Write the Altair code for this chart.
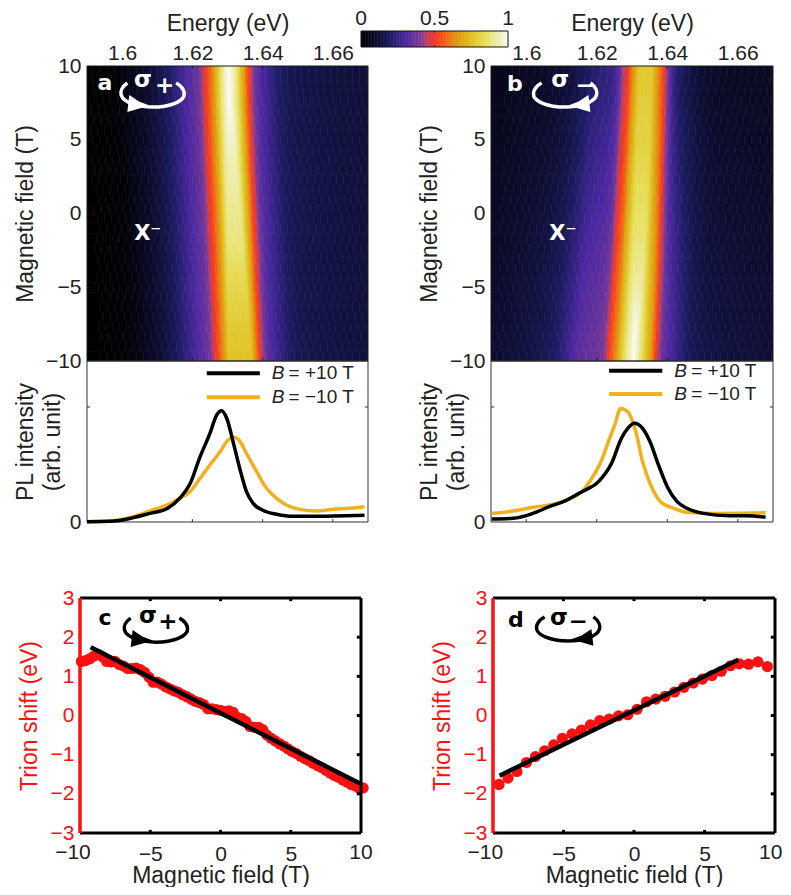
import altair as alt
import pandas as pd

alt.data_transformers.disable_max_rows()

# ---- colormap
CM_V = [0, .1, .2, .3, .4, .45, .5, .55, .65, .75, .85, .95, 1]
CM_C = ["#000000", "#0c0c2e", "#1c1c62", "#4a28a0", "#7a3a98", "#c04060", "#f03828", "#f85018",
        "#e09810", "#e0c020", "#e8e060", "#f0f0c0", "#fafaf0"]

# ---- heat map rows
ENERGY_START_MEV = 1590
ROW_STEP = 2 / 3
PROFILE_A = [.00, .00, .00, .00, .00, .00, .00, .00, .005, .005,
             .005, .005, .01, .01, .01, .015, .015, .02, .02, .025,
             .03, .03, .04, .04, .05, .05, .06, .065, .07, .075,
             .08, .085, .09, .10, .105, .11, .12, .125, .13, .14,
             .15, .155, .165, .17, .18, .19, .20, .21, .22, .23,
             .24, .25, .26, .27, .28, .29, .30, .31, .32, .33,
             .34, .35, .36, .38, .40, .43, .47, .50, .53, .56,
             .60, .63, .67, .72, .77, .82, .87, .91, .95, .98,
             1.0, .99, .97, .94, .90, .86, .81, .76, .71, .66,
             .60, .55, .50, .45, .41, .38, .35, .33, .31, .30,
             .29, .28, .27, .26, .25, .24, .23, .22, .21, .20,
             .19, .19, .18, .18, .17, .17, .165, .165, .16, .16,
             .155, .155, .155, .15, .15, .15, .15, .145, .145, .145,
             .145, .14, .14, .14, .14, .14, .14, .135, .135, .135,
             .135, .135, .135, .13, .13, .13, .13, .13, .13, .13,
             .13, .13, .125, .125, .125, .125, .125, .12, .12, .12, .12]
PROFILE_B = [.10, .10, .10, .105, .105, .11, .11, .11, .115, .115,
             .12, .12, .12, .125, .125, .13, .13, .13, .135, .135,
             .14, .14, .145, .145, .15, .15, .155, .16, .16, .165,
             .17, .175, .18, .185, .19, .195, .20, .21, .22, .23,
             .24, .25, .26, .27, .28, .29, .30, .31, .32, .33,
             .33, .34, .34, .35, .35, .35, .36, .36, .36, .37,
             .37, .38, .39, .40, .42, .45, .50, .54, .57, .60,
             .63, .66, .72, .76, .80, .84, .88, .91, .94, .97,
             1.0, .99, .96, .93, .89, .85, .81, .77, .73, .70,
             .66, .61, .56, .50, .46, .42, .38, .36, .34, .33,
             .31, .30, .29, .28, .26, .25, .24, .23, .22, .21,
             .20, .19, .18, .18, .17, .17, .16, .16, .15, .15,
             .145, .145, .14, .14, .14, .14, .135, .135, .135, .135,
             .13, .13, .13, .13, .13, .13, .125, .125, .125, .125,
             .125, .125, .125, .12, .12, .12, .12, .12, .12, .12,
             .12, .12, .12, .115, .115, .115, .115, .115, .11, .11, .11]
SHIFT_A = [0, 0, .05, .1, .2, .3, .4, .5, .6, .7, .8, .95, 1.1, 1.2, 1.3, 1.4, 1.5, 1.65, 1.8, 1.9,
           2.0, 2.1, 2.2, 2.35, 2.5, 2.6, 2.7, 2.8, 2.9, 3.0]
SHIFT_B = [3.5, 3.45, 3.35, 3.25, 3.15, 3.05, 2.95, 2.85, 2.75, 2.6, 2.5, 2.4, 2.3, 2.2, 2.1, 1.95, 1.85, 1.75,
           1.6, 1.5, 1.35, 1.2, 1.05, .9, .75, .6, .45, .3, .15, 0]
CAP_A = [1, 1, 1, 1, .99, .98, .97, .96, .95, .94, .93, .925, .92, .91, .90, .895, .89, .88, .87, .86,
         .84, .83, .82, .81, .80, .79, .78, .77, .77, .76]
CAP_B = [.78, .78, .78, .79, .79, .80, .80, .80, .81, .82, .82, .83, .84, .84, .85, .86, .86, .87, .88, .89,
         .90, .91, .92, .94, .96, .97, .99, 1, 1, 1]
TAIL_A = [1] * 30
TAIL_B = [.6, .6, .61, .62, .64, .66, .68, .7, .71, .72, .74, .76, .78, .79, .8, .82, .84, .85, .87, .89,
          .9, .92, .93, .94, .96, .97, .98, 1, 1, 1]

# ---- PL spectra
A_BLACK_E = [1.590, 1.5966, 1.6032, 1.6079, 1.6127, 1.6165, 1.6193, 1.6222, 1.625, 1.6269, 1.6283, 1.6298,
             1.6317, 1.6336, 1.6354, 1.6373, 1.6402, 1.644, 1.6487, 1.6554, 1.6601, 1.669]
A_BLACK_I = [.003, .006, .038, .075, .115, .21, .33, .568, .77, .93, .968, .90,
             .684, .452, .264, .162, .10, .067, .049, .049, .052, .058]
A_GOLD_E = [1.590, 1.5966, 1.6032, 1.6079, 1.6127, 1.6165, 1.6193, 1.6222, 1.625, 1.6279, 1.6298, 1.6317, 1.6331,
            1.6354, 1.6383, 1.6411, 1.644, 1.6468, 1.6506, 1.6554, 1.6601, 1.6648, 1.669]
A_GOLD_I = [.003, .009, .046, .096, .148, .206, .264, .38, .496, .612, .70, .736, .719,
            .597, .438, .293, .206, .148, .11, .096, .11, .119, .133]
B_BLACK_E = [1.5902, 1.5963, 1.6019, 1.6065, 1.6112, 1.6158, 1.6205, 1.6242, 1.627, 1.6288, 1.6307,
             1.633, 1.6349, 1.6377, 1.64, 1.6428, 1.6456, 1.6502, 1.6577, 1.6623, 1.6679]
B_BLACK_I = [.026, .032, .075, .133, .186, .264, .351, .51, .728, .814, .858,
             .814, .713, .481, .307, .177, .119, .075, .055, .055, .041]
B_GOLD_E = [1.5902, 1.5963, 1.6019, 1.6065, 1.6112, 1.6158, 1.6186, 1.6214, 1.6233, 1.6251, 1.6268, 1.6288,
            1.6312, 1.633, 1.6353, 1.6381, 1.6419, 1.6456, 1.653, 1.6679]
B_GOLD_I = [.075, .096, .128, .148, .186, .264, .38, .539, .699, .843, .988, .959,
            .771, .525, .322, .177, .119, .084, .075, .081]

# ---- trion shift
C_B = [-9.9, -9.6, -9.3, -9.0, -8.7, -8.4, -8.1, -7.8, -7.5, -7.2, -6.9, -6.6, -6.3, -6.0, -5.7, -5.4, -5.1, -4.8,
       -4.5, -4.2, -3.9, -3.6, -3.3, -3.0, -2.7, -2.4, -2.1, -1.8, -1.5, -1.2, -.9, -.6, -.3, 0, .3, .6, .9, 1.2,
       1.5, 1.8, 2.1, 2.4, 2.7, 3.0, 3.3, 3.6, 3.9, 4.2, 4.5, 4.8, 5.1, 5.4, 5.7, 6.0, 6.3, 6.6, 6.9, 7.2, 7.5,
       7.8, 8.1, 8.4, 8.7, 9.0, 9.3, 9.6, 9.85, 10.15]
C_S = [1.38, 1.40, 1.45, 1.52, 1.56, 1.50, 1.38, 1.37, 1.38, 1.30, 1.26, 1.20, 1.20, 1.21, 1.17, 1.10, .98, .85,
       .85, .80, .73, .68, .63, .59, .53, .48, .42, .36, .33, .28, .17, .17, .15, .13, .10, .12, .08, -.05,
       -.08, -.15, -.28, -.30, -.30, -.36, -.50, -.58, -.65, -.72, -.78, -.85, -.92, -.97, -1.04, -1.10, -1.15,
       -1.22, -1.28, -1.33, -1.40, -1.47, -1.53, -1.58, -1.65, -1.70, -1.76, -1.80, -1.85, -1.85]
D_B = [-9.57, -8.93, -8.30, -7.63, -6.99, -6.33, -5.69, -5.08, -4.39, -3.73, -3.09, -2.43, -1.76, -1.10, -.44,
       .22, .89, 1.55, 2.21, 2.88, 3.54, 4.20, 4.86, 5.53, 6.19, 6.85, 7.47, 8.13, 8.79, 9.46]
D_S = [-1.76, -1.60, -1.43, -1.20, -1.05, -.90, -.75, -.58, -.47, -.37, -.24, -.13, -.09, -.01, .02,
       .16, .35, .42, .49, .60, .72, .83, .93, 1.02, 1.13, 1.27, 1.32, 1.31, 1.37, 1.25]
C_FIT_B, C_FIT_S = [-9.24, 10], [1.74, -1.75]
D_FIT_B, D_FIT_S = [-9.53, 7.4], [-1.536, 1.425]

E_TICKS = [1.6, 1.62, 1.64, 1.66]
B_TICKS = [10, 5, 0, -5, -10]
FIELD_TICKS = [-5, 0, 5]
SHIFT_TICKS = [3, 2, 1, 0, -1, -2, -3]
BAR_TICKS = [(0, "0"), (.5, "0.5"), (1, "1")]
E_DOM, B_DOM, I_DOM, F_DOM, S_DOM = [1.59, 1.67], [-10, 10], [0, 1.4], [-10, 10], [-3, 3]

FONT = "Liberation Sans"
BOLD = "DejaVu Sans"
INK = "#222222"
GOLD = "#f2b01e"
RED = "#ff0f0f"

ARC_P = "M -0.78 -0.37 C -0.95 -0.25 -1 -0.1 -0.97 0 C -0.9 0.25 -0.4 0.37 0 0.37 C 0.5 0.37 1 0.2 0.97 -0.06 C 0.95 -0.2 0.85 -0.3 0.72 -0.37"
HEAD_P = "M -0.72 0 L -0.78 0.52 L -0.1 0.32 L -0.42 0.2 Z"
ARC_M = "M 0.78 -0.37 C 0.95 -0.25 1 -0.1 0.97 0 C 0.9 0.25 0.4 0.37 0 0.37 C -0.5 0.37 -1 0.2 -0.97 -0.06 C -0.95 -0.2 -0.85 -0.3 -0.72 -0.37"
HEAD_M = "M 0.72 0 L 0.78 0.52 L 0.1 0.32 L 0.42 0.2 Z"


def sx(dom, rng, field="x", axis=None, clamp=False):
    return alt.X(f"{field}:Q", scale=alt.Scale(domain=dom, range=rng, clamp=clamp, nice=False, zero=False),
                 axis=axis, title=None)


def sy(dom, rng, field="y", axis=None, clamp=False):
    return alt.Y(f"{field}:Q", scale=alt.Scale(domain=dom, range=rng, clamp=clamp, nice=False, zero=False),
                 axis=axis, title=None)


def ax(orient, values, title=None, offset=0, fmt="d", color=INK, pad=6, tpad=None, lines=None):
    kw = dict(orient=orient, values=values, domain=False, ticks=False, grid=False, labelFontSize=21,
              labelFont=FONT, labelColor=color, titleColor=color, titleFontSize=23, titleFont=FONT,
              titleFontWeight="normal", labelPadding=pad, labelFlush=False, labelOverlap=False, format=fmt)
    kw["title"] = title if title is not None else ""
    if offset:
        kw["offset"] = offset
    if tpad is not None:
        kw["titlePadding"] = tpad
    if lines:
        kw["titleLineHeight"] = lines
    return alt.Axis(**kw)


def cm():
    return alt.Color("v:Q", scale=alt.Scale(domain=CM_V, range=CM_C, interpolate="rgb", clamp=True), legend=None)


def segs(rows, xd, xr, yd, yr, color, width):
    df = pd.DataFrame(rows, columns=["x", "x2", "y", "y2"])
    return alt.Chart(df).mark_rule(color=color, strokeWidth=width).encode(
        x=sx(xd, xr), x2="x2:Q", y=sy(yd, yr), y2="y2:Q")


def box(xd, yd):
    return [(xd[0], xd[1], yd[0], yd[0]), (xd[0], xd[1], yd[1], yd[1]),
            (xd[0], xd[0], yd[0], yd[1]), (xd[1], xd[1], yd[0], yd[1])]


def xticks(vals, yd, ln):
    return [(v, v, yd[0], yd[0] + ln) for v in vals] + [(v, v, yd[1], yd[1] - ln) for v in vals]


def yticks(vals, xd, ln):
    return [(xd[0], xd[0] + ln, v, v) for v in vals] + [(xd[1], xd[1] - ln, v, v) for v in vals]


def label(x, y, text, xd, xr, yd, yr, color="white", size=22, font=BOLD, weight="bold", style="normal", align="center"):
    df = pd.DataFrame({"x": [x], "y": [y], "t": [text]})
    return alt.Chart(df).mark_text(color=color, fontSize=size, font=font, fontWeight=weight, fontStyle=style,
                                   align=align, baseline="middle").encode(
        x=sx(xd, xr), y=sy(yd, yr), text="t:N")


def ring(x, y, arc, head, color, xd, xr, yd, yr, w=65):
    df = pd.DataFrame({"x": [x], "y": [y]})
    a = alt.Chart(df).mark_point(shape=arc, size=w * w, filled=False, stroke=color, strokeWidth=3.5, opacity=1).encode(
        x=sx(xd, xr), y=sy(yd, yr))
    h = alt.Chart(df).mark_point(shape=head, size=w * w, filled=True, fill=color, strokeWidth=0, opacity=1).encode(
        x=sx(xd, xr), y=sy(yd, yr))
    return [a, h]


def heat_rows(profile, shift, cap, tail):
    rows = []
    for k in range(len(shift)):
        b = 10 - k * ROW_STEP
        for i in range(len(profile)):
            p = profile[i]
            v = min(tail[k] * min(p, .3) + max(p - .3, 0), cap[k])
            e = (ENERGY_START_MEV + i * .5 + shift[k]) / 1000
            left = E_DOM[0] if i == 0 else e
            if left < E_DOM[1]:
                rows.append((left, e + .00065, b, b - ROW_STEP * 1.06, v))
    return pd.DataFrame(rows, columns=["x", "x2", "y", "y2", "v"])


def heat_panel(profile, shift, cap, tail, xr, left_off, annots, colorbar=False):
    yr = [295, 0]
    rects = alt.Chart(heat_rows(profile, shift, cap, tail)).mark_rect(strokeWidth=0).encode(
        x=sx(E_DOM, xr, axis=ax("top", E_TICKS, "Energy (eV)", fmt=".2~f", pad=3, tpad=7), clamp=True),
        x2="x2:Q",
        y=sy(B_DOM, yr, axis=ax("left", B_TICKS, "Magnetic field (T)", offset=left_off, tpad=8), clamp=True),
        y2="y2:Q", color=cm())
    layers = [rects,
              segs(box(E_DOM, B_DOM) + xticks(E_TICKS, B_DOM, .2) + yticks([5, 0, -5], E_DOM, .0009),
                   E_DOM, xr, B_DOM, yr, "#1a1a1a", 1)]
    layers += annots(E_DOM, xr, B_DOM, yr)
    if colorbar:
        bx, by = [281, 428], [-19, -35]
        step = .01
        df = pd.DataFrame({"x": [i * step for i in range(100)]})
        df["x2"], df["v"], df["y"], df["y2"] = df["x"] + step * 1.3, df["x"] + step / 2, 0, 1
        layers.append(alt.Chart(df).mark_rect(strokeWidth=0).encode(
            x=sx([0, 1], bx, clamp=True), x2="x2:Q",
            y=sy([0, 1], by), y2="y2:Q", color=cm()))
        layers.append(segs(box([0, 1], [0, 1]) + [(.5, .5, 0, .12), (.5, .5, 1, .88)],
                           [0, 1], bx, [0, 1], by, "#111111", 1))
        for v, t in BAR_TICKS:
            layers.append(label(v, 1.75, t, [0, 1], bx, [0, 1], by, INK, 21, FONT, "normal"))
    return alt.layer(*layers).resolve_scale(x="independent", y="independent").properties(width=xr[1], height=295)


def pl_panel(be, bi, ge, gi, xr, left_off, leg):
    yr = [161, 0]
    dfb = pd.DataFrame({"x": be, "y": bi})
    dfg = pd.DataFrame({"x": ge, "y": gi})
    title = ["PL intensity", "(arb. unit)"]
    lg = alt.Chart(dfg).mark_line(color=GOLD, strokeWidth=3.5, interpolate="monotone").encode(
        x=sx(E_DOM, xr),
        y=sy(I_DOM, yr, axis=ax("left", [0], title, offset=left_off, tpad=5, lines=27)))
    lb = alt.Chart(dfb).mark_line(color="black", strokeWidth=3.5, interpolate="monotone").encode(
        x=sx(E_DOM, xr), y=sy(I_DOM, yr))
    layers = [segs(box(E_DOM, I_DOM) + [(v, v, 0, .025) for v in E_TICKS] + yticks([1], E_DOM, .0009),
                   E_DOM, xr, I_DOM, yr, "#333333", 1), lg, lb]
    x0, x1, tb, te, y1, y2 = leg
    layers.append(segs([(x0, x1, y1, y1)], E_DOM, xr, I_DOM, yr, "black", 4))
    layers.append(segs([(x0, x1, y2, y2)], E_DOM, xr, I_DOM, yr, GOLD, 4))
    for y, s in ((y1, "= +10 T"), (y2, "= \u221210 T")):
        layers.append(label(tb, y, "B", E_DOM, xr, I_DOM, yr, INK, 19, FONT, "normal", "italic", "left"))
        layers.append(label(te, y, s, E_DOM, xr, I_DOM, yr, INK, 19, FONT, "normal", "normal", "left"))
    return alt.layer(*layers).resolve_scale(x="independent", y="independent").properties(width=xr[1], height=161)


def trion_panel(b, s, fb, fs, xr, left_off, annots, end_x):
    yr = [235, 0]
    pts = alt.Chart(pd.DataFrame({"x": b, "y": s})).mark_circle(color=RED, size=125, opacity=1).encode(
        x=sx(F_DOM, xr, axis=ax("bottom", FIELD_TICKS, "Magnetic field (T)", pad=10, tpad=0)),
        y=sy(S_DOM, yr, axis=ax("left", SHIFT_TICKS, "Trion shift (eV)", offset=left_off, color=RED, tpad=9)))
    top = [(F_DOM[0], F_DOM[1], 3, 3), (F_DOM[0], F_DOM[1], -3, -3), (10, 10, -3, 3)]
    ticks = xticks([-5, 0, 5], S_DOM, .08) + [(10, 9.7, v, v) for v in [2, 1, 0, -1, -2]]
    layers = [pts,
              segs(top + ticks, F_DOM, xr, S_DOM, yr, "black", 3),
              segs([(-10, -10, -3, 3)], F_DOM, xr, S_DOM, yr, RED, 3.5),
              alt.Chart(pd.DataFrame({"x": fb, "y": fs})).mark_line(color="black", strokeWidth=4.5).encode(
                  x=sx(F_DOM, xr), y=sy(S_DOM, yr))]
    layers += annots(F_DOM, xr, S_DOM, yr)
    layers.append(label(end_x[0], -3.5, "\u221210", F_DOM, xr, S_DOM, yr, INK, 21, FONT, "normal"))
    layers.append(label(end_x[1], -3.5, "10", F_DOM, xr, S_DOM, yr, INK, 21, FONT, "normal"))
    return alt.layer(*layers).resolve_scale(x="independent", y="independent").properties(width=xr[1], height=235)


def ann_a(xd, xr, yd, yr):
    return [label(1.5951, 8.85, "a", xd, xr, yd, yr), label(1.6059, 9.05, "\u03c3", xd, xr, yd, yr, size=23),
            label(1.6121, 8.64, "+", xd, xr, yd, yr, size=23), label(1.6073, -1.39, "X\u207b", xd, xr, yd, yr, size=21)
            ] + ring(1.6087, 8.03, ARC_P, HEAD_P, "white", xd, xr, yd, yr)


def ann_b(xd, xr, yd, yr):
    return [label(1.5968, 8.78, "b", xd, xr, yd, yr), label(1.6096, 9.05, "\u03c3", xd, xr, yd, yr, size=23),
            label(1.6167, 8.64, "\u2212", xd, xr, yd, yr, size=23), label(1.6104, -1.39, "X\u207b", xd, xr, yd, yr, size=21)
            ] + ring(1.611, 8.03, ARC_M, HEAD_M, "white", xd, xr, yd, yr)


def ann_c(xd, xr, yd, yr):
    return [label(-8.22, 2.49, "c", xd, xr, yd, yr, "black"), label(-5.16, 2.54, "\u03c3", xd, xr, yd, yr, "black", 23),
            label(-3.74, 2.39, "+", xd, xr, yd, yr, "black", 23)
            ] + ring(-4.59, 2.18, ARC_P, HEAD_P, "black", xd, xr, yd, yr)


def ann_d(xd, xr, yd, yr):
    return [label(-8.37, 2.44, "d", xd, xr, yd, yr, "black"), label(-5.32, 2.49, "\u03c3", xd, xr, yd, yr, "black", 23),
            label(-3.97, 2.39, "\u2212", xd, xr, yd, yr, "black", 23)
            ] + ring(-4.68, 2.21, ARC_M, HEAD_M, "black", xd, xr, yd, yr)


def spacer(w, h):
    return alt.Chart(pd.DataFrame({"a": [0]})).mark_point(opacity=0).encode(
        x=alt.value(0), y=alt.value(0)).properties(width=w, height=h)


XR_A, XR_B, XR_C, XR_D = [7, 288], [0, 282], [0, 281], [2, 284]

a = heat_panel(PROFILE_A, SHIFT_A, CAP_A, TAIL_A, XR_A, -7, ann_a, colorbar=True)
b = heat_panel(PROFILE_B, SHIFT_B, CAP_B, TAIL_B, XR_B, 0, ann_b)
la = pl_panel(A_BLACK_E, A_BLACK_I, A_GOLD_E, A_GOLD_I, XR_A, -7, (1.6241, 1.6392, 1.6426, 1.6474, 1.293, 1.084))
lb = pl_panel(B_BLACK_E, B_BLACK_I, B_GOLD_E, B_GOLD_I, XR_B, 0, (1.6235, 1.6386, 1.642, 1.6468, 1.316, 1.113))
c = trion_panel(C_B, C_S, C_FIT_B, C_FIT_S, XR_C, 0, ann_c, (-10.5, 10))
d = trion_panel(D_B, D_S, D_FIT_B, D_FIT_S, XR_D, -2, ann_d, (-10.55, 9.7))

chart = alt.concat(a, b, la, lb, spacer(288, 76), spacer(284, 76), c, d, columns=2,
                   spacing={"row": 0, "column": 123}, bounds="flush", align="each").properties(
    autosize=alt.AutoSizeParams(type="none"),
    padding={"left": 72, "top": 58, "right": 703, "bottom": 821}, background="white"
).configure_view(stroke=None)

chart.save("out.html", embed_options={"renderer": "svg", "actions": False})
